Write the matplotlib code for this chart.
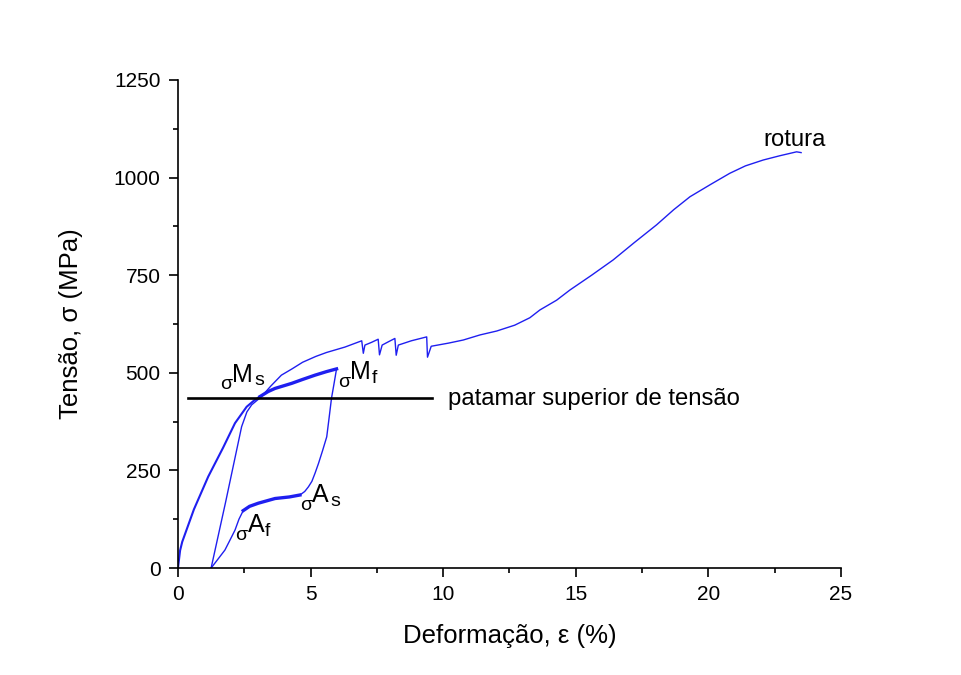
import matplotlib
matplotlib.use("Agg")
import matplotlib.pyplot as plt
from matplotlib.ticker import MultipleLocator

plt.rcParams['font.family'] = ['Liberation Sans', 'DejaVu Sans']

# first loading, up to the start of the upper plateau
load_strain = [0, 0.08, 0.16, 0.6, 1.14, 1.7, 2.15, 2.59, 2.85, 3.09]
load_stress = [0, 45, 67, 150, 234, 308, 371, 413, 428, 439]

# upper plateau (Ms -> Mf)
upper_strain = [3.09, 3.4, 3.66, 4.0, 4.29, 4.7, 5.17, 5.6, 5.98]
upper_stress = [439, 452, 460, 467, 473, 483, 494, 503, 510]

# unloading (Mf -> As)
unload_strain = [5.98, 5.88, 5.79, 5.70, 5.61, 5.45, 5.30, 5.17, 5.05, 4.92, 4.78, 4.60]
unload_stress = [510, 470, 435, 385, 336, 300, 268, 243, 222, 208, 196, 187]

# lower plateau (As -> Af)
lower_strain = [4.60, 4.2, 3.66, 3.03, 2.7, 2.46]
lower_stress = [187, 182, 178, 166, 158, 147]

# end of unloading (Af -> zero stress)
return_strain = [2.46, 2.3, 2.15, 1.95, 1.77, 1.5, 1.25]
return_stress = [147, 125, 97, 70, 46, 22, 0]

# second loading up to fracture
reload_strain = [1.25, 1.8, 2.4, 2.6, 2.78, 3.15, 3.5, 3.9, 4.3, 4.7, 5.2, 5.6,
                 6.3, 6.93, 6.99, 7.05, 7.3, 7.55, 7.60, 7.70, 7.95, 8.18, 8.23,
                 8.31, 8.8, 9.38, 9.41, 9.55, 10.2, 10.76, 11.39, 12.02, 12.7,
                 13.27, 13.65, 14.28, 14.78, 15.6, 16.41, 17.2, 18.05, 18.7,
                 19.31, 20.1, 20.81, 21.4, 22.07, 22.7, 23.33, 23.5]
reload_stress = [0, 170, 362, 400, 418, 439, 466, 494, 510, 527, 542, 552,
                 566, 582, 550, 571, 578, 586, 546, 571, 580, 588, 545,
                 571, 582, 592, 540, 568, 576, 584, 597, 607, 622,
                 641, 661, 686, 712, 750, 789, 833, 879, 918,
                 951, 983, 1011, 1030, 1045, 1056, 1066, 1064]

plateau_x = [0.38, 9.58]
plateau_y = [436, 436]

blue = '#1f1ff0'

fig = plt.figure(figsize=(9.61, 6.75), dpi=100)
ax = fig.add_axes([0.1852, 0.1585, 0.6898, 0.723])

ax.plot(load_strain, load_stress, color=blue, lw=1.5)
ax.plot(upper_strain, upper_stress, color=blue, lw=2.4)
ax.plot(unload_strain, unload_stress, color=blue, lw=1.0)
ax.plot(lower_strain, lower_stress, color=blue, lw=2.4)
ax.plot(return_strain, return_stress, color=blue, lw=1.0)
ax.plot(reload_strain, reload_stress, color=blue, lw=1.0)
ax.plot(plateau_x, plateau_y, color='black', lw=1.9)

ax.set_xlim(0, 25)
ax.set_ylim(0, 1250)
ax.xaxis.set_major_locator(MultipleLocator(5))
ax.xaxis.set_minor_locator(MultipleLocator(2.5))
ax.yaxis.set_major_locator(MultipleLocator(250))
ax.yaxis.set_minor_locator(MultipleLocator(125))
ax.spines['top'].set_visible(False)
ax.spines['right'].set_visible(False)
for s in ['left', 'bottom']:
    ax.spines[s].set_linewidth(1.2)
ax.tick_params(which='major', direction='out', length=6.5, width=1.2, labelsize=15, pad=6)
ax.tick_params(which='minor', direction='out', length=3.5, width=1.2)

ax.set_xlabel('Deformação, ε (%)', fontsize=18.5, labelpad=14)
ax.set_ylabel('Tensão, σ (MPa)', fontsize=18.5, labelpad=22)


def sigma_label(x, y, letter, sub, sub_dx):
    # small sigma, then the big letter raised, then its subscript
    ax.text(x, y, 'σ', fontsize=14, va='baseline', ha='left')
    ax.annotate(letter, xy=(x, y), xytext=(9.0, 5.5), textcoords='offset points',
                fontsize=18, va='baseline', ha='left')
    ax.annotate(sub, xy=(x, y), xytext=(sub_dx, 3.0), textcoords='offset points',
                fontsize=14, va='baseline', ha='left')


sigma_label(1.58, 458, 'M', 's', 24.6)
sigma_label(6.03, 464, 'M', 'f', 24.6)
sigma_label(4.60, 149, 'A', 's', 21.6)
sigma_label(2.15, 72, 'A', 'f', 21.6)

ax.text(10.18, 417, 'patamar superior de tensão', fontsize=17.2, va='baseline')
ax.text(22.06, 1081, 'rotura', fontsize=17.2, va='baseline')

fig.savefig('out.png', dpi=100)
